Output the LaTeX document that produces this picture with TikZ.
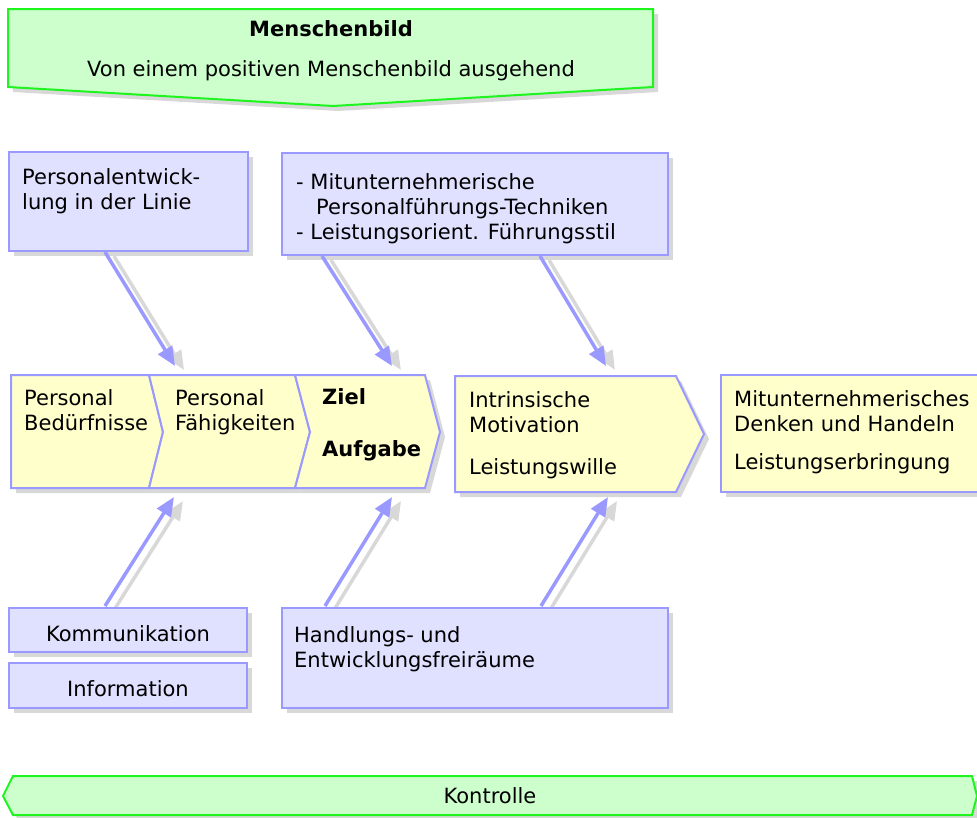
\documentclass[tikz,border=0pt]{standalone}
\usepackage{fontspec}
\setmainfont{DejaVu Sans}
\usetikzlibrary{arrows.meta,shadows}
\definecolor{lav}{RGB}{224,224,255}
\definecolor{lavline}{RGB}{153,153,255}
\definecolor{yel}{RGB}{255,255,204}
\definecolor{grn}{RGB}{204,255,204}
\definecolor{grnline}{RGB}{30,245,30}
\definecolor{shd}{RGB}{216,216,216}
\tikzset{
  shad/.style={drop shadow={shadow xshift=5pt, shadow yshift=-5pt, fill=shd, opacity=1}},
  bluebox/.style={fill=lav, draw=lavline, line width=2pt, shad, inner sep=0pt, anchor=north west},
  yelshape/.style={fill=yel, draw=lavline, line width=2pt, shad},
  grnshape/.style={fill=grn, draw=grnline, line width=2pt, shad},
  txt/.style={font=\fontsize{21}{25}\selectfont, inner sep=0pt, align=left, anchor=base west},
  ctxt/.style={font=\fontsize{21}{25}\selectfont, inner sep=0pt, anchor=base},
  conn/.style={draw=lavline, line width=3.5pt, -{Triangle[length=19pt,width=16pt]}},
  connshadow/.style={draw=shd, line width=3.5pt, -{Triangle[length=19pt,width=16pt]}, transform canvas={xshift=9pt,yshift=-4pt}}
}
\begin{document}
\begin{tikzpicture}[x=1pt,y=-1pt]
\useasboundingbox (0,0) rectangle (977,817);

% arrow end points
\coordinate (a1s) at (105,252); \coordinate (a1e) at (175,366);
\coordinate (a2s) at (322,256); \coordinate (a2e) at (392,366);
\coordinate (a3s) at (540,256); \coordinate (a3e) at (606,366);
\coordinate (b1s) at (105,606); \coordinate (b1e) at (174,497);
\coordinate (b2s) at (325,606); \coordinate (b2e) at (392,497);
\coordinate (b3s) at (541,606); \coordinate (b3e) at (608,497);

% arrow shadows
\foreach \s/\e in {a1s/a1e,a2s/a2e,a3s/a3e,b1s/b1e,b2s/b2e,b3s/b3e}
  \draw[connshadow] (\s) -- (\e);

% top banner
\path[grnshape] (8,9) -- (653,9) -- (653,87) -- (333,106) -- (8,87) -- cycle;
\node[ctxt, font=\fontsize{21}{25}\selectfont\bfseries] (t0) at (331,36) {Menschenbild};
\node[ctxt] (t1) at (331,76) {Von einem positiven Menschenbild ausgehend};

% upper boxes
\node[bluebox, minimum width=239pt, minimum height=99pt] (boxA) at (8,151) {};
\node[txt] (tA) at (22,209) {Personalentwick-\\lung in der Linie};
\node[bluebox, minimum width=386pt, minimum height=102pt] (boxB) at (281,152) {};
\node[txt] (tB) at (296,239) {- Mitunternehmerische\\\hspace*{20pt}Personalführungs-Techniken\\- Leistungsorient. Führungsstil};

% chevrons
\path[yelshape] (11,375) -- (149,375) -- (163,432) -- (149,488) -- (11,488) -- cycle;
\path[yelshape] (149,375) -- (295,375) -- (310,432) -- (295,488) -- (149,488) -- (163,432) -- cycle;
\path[yelshape] (295,375) -- (425,375) -- (440,432) -- (425,488) -- (295,488) -- (310,432) -- cycle;
\path[yelshape] (455,376) -- (676,376) -- (704,434) -- (676,492) -- (455,492) -- cycle;
\path[yelshape] (721,375) -- (985,375) -- (985,492) -- (721,492) -- cycle;
\node[txt] (c1) at (24,430) {Personal\\Bedürfnisse};
\node[txt] (c2) at (175,430) {Personal\\Fähigkeiten};
\node[txt, font=\fontsize{21}{25}\selectfont\bfseries] (c3a) at (322,404) {Ziel};
\node[txt, font=\fontsize{21}{25}\selectfont\bfseries] (c3b) at (322,456) {Aufgabe};
\node[txt] (c4a) at (469,432) {Intrinsische\\Motivation};
\node[txt] (c4b) at (469,474) {Leistungswille};
\node[txt] (c5a) at (734,431) {Mitunternehmerisches\\Denken und Handeln};
\node[txt] (c5b) at (734,469) {Leistungserbringung};

% lower boxes
\node[bluebox, minimum width=238pt, minimum height=44pt] (boxC) at (8,607) {};
\node[ctxt] (tC) at (boxC.center |- 0,641) {Kommunikation};
\node[bluebox, minimum width=238pt, minimum height=45pt] (boxD) at (8,662) {};
\node[ctxt] (tD) at (boxD.center |- 0,696) {Information};
\node[bluebox, minimum width=386pt, minimum height=100pt] (boxE) at (281,607) {};
\node[txt] (tE) at (294,667) {Handlungs- und\\Entwicklungsfreiräume};

% arrows
\foreach \s/\e in {a1s/a1e,a2s/a2e,a3s/a3e,b1s/b1e,b2s/b2e,b3s/b3e}
  \draw[conn] (\s) -- (\e);

% bottom banner
\path[grnshape] (13,776) -- (972,776) -- (977,796) -- (972,815) -- (13,815) -- (3,796) -- cycle;
\node[ctxt] (tK) at (490,803) {Kontrolle};
\end{tikzpicture}
\end{document}
